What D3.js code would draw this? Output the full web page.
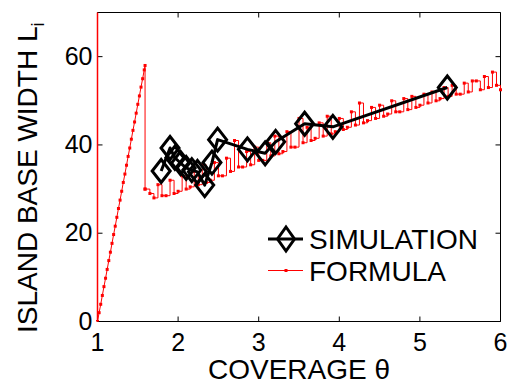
<!DOCTYPE html>
<html>
<head>
<meta charset="utf-8">
<script src="https://cdn.jsdelivr.net/npm/d3@7"></script>
<style>
    body { margin: 0; background: #fff; }
    svg { display: block; font-family: "Liberation Sans", Arial, sans-serif; }
</style>
</head>
<body>
<div id="chart"></div>
<script>
// simulation points (black diamonds)
const simCoverage = [1.79, 1.90, 1.96, 2.03, 2.10, 2.17, 2.24, 2.33, 2.42, 2.49, 2.86, 3.08, 3.21, 3.57, 3.92, 5.34];
const simWidth = [34.1, 39.3, 37.1, 35.9, 34.8, 34.3, 33.9, 30.9, 36.0, 41.2, 39.0, 38.1, 40.7, 44.8, 44.1, 53.0];

// formula: vertical branch at coverage 1 (runs off the top)
const asymptoteCoverage = [1.00, 1.00];
const asymptoteWidth = [70, 0];

// formula, steep ramp
const rampCoverage = [1.00, 1.02, 1.04, 1.06, 1.08, 1.10, 1.12, 1.14, 1.16, 1.18, 1.20, 1.22, 1.24, 1.26, 1.28,
    1.30, 1.32, 1.34, 1.36, 1.38, 1.40, 1.42, 1.44, 1.46, 1.48, 1.50, 1.52, 1.54, 1.56, 1.58, 1.59, 1.59];
const rampWidth = [0, 2.0, 3.9, 5.9, 7.9, 9.8, 11.8, 13.8, 15.7, 17.7, 19.7, 21.6, 23.6, 25.6, 27.5,
    29.5, 31.5, 33.4, 35.4, 37.4, 39.3, 41.3, 43.3, 45.2, 47.2, 49.2, 51.1, 53.1, 55.0, 57.0, 58.0, 30.0];

// formula, stepped branch
const stepCoverage = [1.59, 1.65, 1.70, 1.75, 1.80, 1.85, 1.90, 1.95, 2.00, 2.05, 2.10, 2.15, 2.20, 2.25, 2.30,
    2.35, 2.40, 2.45, 2.50, 2.55, 2.60, 2.65, 2.70, 2.75, 2.80, 2.85, 2.90, 2.95, 3.00, 3.05, 3.10,
    3.15, 3.20, 3.25, 3.30, 3.35, 3.40, 3.45, 3.50, 3.55, 3.60, 3.65, 3.70, 3.75, 3.80, 3.85, 3.90,
    3.95, 4.00, 4.05, 4.10, 4.15, 4.20, 4.25, 4.30, 4.35, 4.40, 4.45, 4.50, 4.55, 4.60, 4.65, 4.70,
    4.75, 4.80, 4.85, 4.90, 4.95, 5.00, 5.05, 5.10, 5.15, 5.20, 5.25, 5.30, 5.35, 5.40, 5.45, 5.50,
    5.55, 5.60, 5.65, 5.70, 5.75, 5.80, 5.85, 5.90, 5.95, 6.00];
const stepWidth = [30.0, 29.0, 28.0, 31.0, 28.5, 28.5, 32.0, 29.0, 29.5, 33.0, 30.0, 30.5, 34.0, 31.0, 35.5,
    31.5, 32.0, 36.0, 33.0, 33.0, 37.0, 34.0, 41.0, 35.0, 35.0, 38.5, 35.5, 39.5, 36.5, 36.5, 40.5,
    37.5, 42.0, 38.0, 38.5, 43.0, 39.5, 39.5, 46.0, 40.5, 44.0, 41.0, 41.5, 45.0, 42.0, 46.5, 42.5,
    43.0, 46.0, 43.5, 44.0, 47.5, 44.5, 49.5, 45.0, 45.5, 48.5, 46.0, 49.0, 46.5, 47.0, 50.0, 47.5,
    47.5, 50.5, 48.0, 51.0, 48.5, 49.0, 51.5, 49.5, 52.0, 50.0, 50.5, 53.0, 51.0, 53.5, 51.5, 51.5,
    54.0, 52.0, 54.5, 54.5, 52.5, 55.5, 53.0, 56.5, 53.5, 52.5];

const xTicks = [1, 2, 3, 4, 5, 6];
const yTicks = [0, 20, 40, 60];

const margin = { top: 12.5, right: 9.5, bottom: 66.5, left: 97.5 };
const outerWidth = 510;
const outerHeight = 388;
const width = outerWidth - margin.left - margin.right;
const height = outerHeight - margin.top - margin.bottom;

const svg = d3.select('#chart')
    .append('svg')
    .attr('width', outerWidth)
    .attr('height', outerHeight);

const main = svg.append('g')
    .attr('transform', `translate(${[margin.left, margin.top]})`);

const x = d3.scaleLinear().domain([1, 6]).range([0, width]);
const y = d3.scaleLinear().domain([0, 70]).range([height, 0]);

svg.append('defs').append('clipPath')
    .attr('id', 'plot-clip')
    .append('rect')
    .attr('x', -2)
    .attr('y', 0)
    .attr('width', width + 4)
    .attr('height', height);

// axes, ticks pointing inward on all four sides
const styleAxis = g => {
    g.attr('font-family', null).attr('font-size', null);
    g.select('.domain').attr('stroke', '#000').attr('stroke-width', 1);
    g.selectAll('.tick line').attr('stroke', '#000').attr('stroke-width', 1);
    g.selectAll('.tick text').attr('fill', '#000').style('font-size', '25px');
};

main.append('g')
    .attr('transform', `translate(0,${height})`)
    .call(d3.axisBottom(x).offset(0).tickValues(xTicks).tickSize(-5).tickSizeOuter(0).tickPadding(12).tickFormat(d3.format('d')))
    .call(styleAxis);
main.append('g')
    .call(d3.axisTop(x).offset(0).tickValues(xTicks).tickSize(-5).tickSizeOuter(0).tickFormat(''))
    .call(styleAxis);
main.append('g')
    .call(d3.axisLeft(y).offset(0).tickValues(yTicks).tickSize(-5).tickSizeOuter(0).tickPadding(5).tickFormat(d3.format('d')))
    .call(styleAxis);
main.append('g')
    .attr('transform', `translate(${width},0)`)
    .call(d3.axisRight(y).offset(0).tickValues(yTicks).tickSize(-5).tickSizeOuter(0).tickFormat(''))
    .call(styleAxis);

// formula (red)
const plot = main.append('g').attr('clip-path', 'url(#plot-clip)');

const asymptote = asymptoteCoverage.map((c, i) => [c, asymptoteWidth[i]]);
const ramp = rampCoverage.map((c, i) => [c, rampWidth[i]]);
const steps = stepCoverage.map((c, i) => [c, stepWidth[i]]);

const lineLinear = d3.line().x(d => x(d[0])).y(d => y(d[1]));
const lineStep = d3.line().x(d => x(d[0])).y(d => y(d[1])).curve(d3.curveStepAfter);

plot.append('path')
    .attr('d', lineLinear(ramp))
    .attr('fill', 'none')
    .attr('stroke', '#ff0000')
    .attr('stroke-width', 1);
plot.append('path')
    .attr('d', lineStep(steps))
    .attr('fill', 'none')
    .attr('stroke', '#ff0000')
    .attr('stroke-width', 1);

plot.selectAll('.dot')
    .data(ramp.concat(steps))
    .enter()
    .append('rect')
    .classed('dot', 1)
    .attr('x', d => x(d[0]) - 1.5)
    .attr('y', d => y(d[1]) - 1.5)
    .attr('width', 3)
    .attr('height', 3)
    .attr('fill', '#ff0000');

// red branch over the left spine
main.append('path')
    .attr('d', lineLinear(asymptote))
    .attr('fill', 'none')
    .attr('stroke', '#ff0000')
    .attr('stroke-width', 1.5);

// simulation (black diamonds)
const sim = simCoverage.map((c, i) => [c, simWidth[i]]);
const diamond = (hw, hh) => `M0,${-hh}L${hw},0L0,${hh}L${-hw},0Z`;

main.append('path')
    .attr('d', lineLinear(sim))
    .attr('fill', 'none')
    .attr('stroke', '#000')
    .attr('stroke-width', 3)
    .attr('stroke-linejoin', 'round');

main.selectAll('.diamond')
    .data(sim)
    .enter()
    .append('path')
    .classed('diamond', 1)
    .attr('transform', d => `translate(${[x(d[0]), y(d[1])]})`)
    .attr('d', diamond(9, 11.5))
    .attr('fill', 'none')
    .attr('stroke', '#000')
    .attr('stroke-width', 3)
    .attr('stroke-linejoin', 'miter');

// legend
const legend = svg.append('g');
legend.append('line')
    .attr('x1', 268).attr('x2', 303).attr('y1', 239).attr('y2', 239)
    .attr('stroke', '#000').attr('stroke-width', 3);
legend.append('path')
    .attr('transform', 'translate(286,239)')
    .attr('d', diamond(8.5, 12))
    .attr('fill', 'none').attr('stroke', '#000').attr('stroke-width', 3);
legend.append('text')
    .attr('x', 309).attr('y', 249)
    .style('font-size', '28px')
    .text('SIMULATION');

legend.append('line')
    .attr('x1', 268).attr('x2', 303).attr('y1', 270.5).attr('y2', 270.5)
    .attr('stroke', '#ff0000').attr('stroke-width', 1);
legend.append('rect')
    .attr('x', 284.5).attr('y', 269).attr('width', 3).attr('height', 3)
    .attr('fill', '#ff0000');
legend.append('text')
    .attr('x', 309).attr('y', 281)
    .style('font-size', '28px')
    .text('FORMULA');

// axis labels
svg.append('text')
    .attr('x', margin.left + width / 2)
    .attr('y', 379)
    .attr('text-anchor', 'middle')
    .style('font-size', '28px')
    .text('COVERAGE θ');

const yLabel = svg.append('text')
    .attr('transform', 'translate(37,333) rotate(-90)')
    .style('font-size', '28px');
yLabel.append('tspan').text('ISLAND BASE WIDTH L');
yLabel.append('tspan')
    .attr('dy', 7)
    .style('font-size', '18px')
    .text('i');
</script>
</body>
</html>
